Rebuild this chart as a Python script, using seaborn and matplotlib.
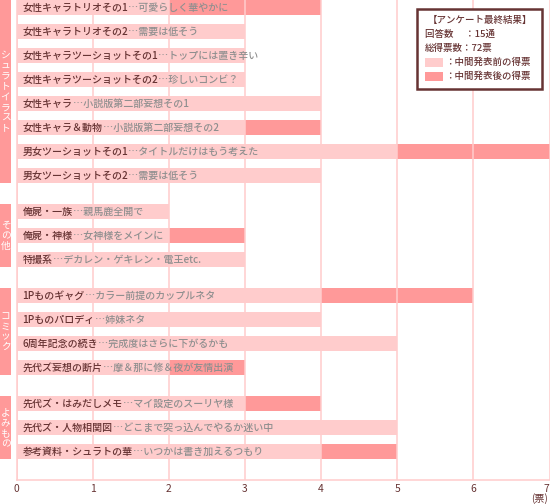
import pandas as pd
import matplotlib.pyplot as plt
import seaborn as sns
from matplotlib.patches import Rectangle
from matplotlib.transforms import blended_transform_factory

# data
groups = ['シュラトイラスト', 'その他', 'コミック', 'よみもの']
item_group = [0, 0, 0, 0, 0, 0, 0, 0, 1, 1, 1, 2, 2, 2, 2, 3, 3, 3]
titles = [
    '女性キャラトリオその1', '女性キャラトリオその2', '女性キャラツーショットその1',
    '女性キャラツーショットその2', '女性キャラ', '女性キャラ＆動物',
    '男女ツーショットその1', '男女ツーショットその2',
    '俺屍・一族', '俺屍・神様', '特撮系',
    '1Pものギャグ', '1Pものパロディ', '6周年記念の続き', '先代ズ妄想の断片',
    '先代ズ・はみだしメモ', '先代ズ・人物相関図', '参考資料・シュラトの華',
]
comments = [
    '可愛らしく華やかに', '需要は低そう', 'トップには置き辛い', '珍しいコンビ？',
    '小説版第二部妄想その1', '小説版第二部妄想その2', 'タイトルだけはもう考えた', '需要は低そう',
    '親馬鹿全開で', '女神様をメインに', 'デカレン・ゲキレン・電王etc.',
    'カラー前提のカップルネタ', '姉妹ネタ', '完成度はさらに下がるかも', '摩＆那に修＆夜が友情出演',
    'マイ設定のスーリヤ様', 'どこまで突っ込んでやるか迷い中', 'いつかは書き加えるつもり',
]
votes_before = [2, 3, 3, 3, 4, 3, 5, 4, 2, 2, 3, 4, 4, 5, 2, 3, 5, 4]
votes_after = [2, 0, 0, 0, 0, 1, 2, 0, 0, 1, 0, 2, 0, 0, 1, 1, 0, 1]
x_ticks = [0, 1, 2, 3, 4, 5, 6, 7]
legend_lines = ['【アンケート最終結果】', '回答数　 ：15通', '総得票数：72票']
legend_labels = ['：中間発表前の得票', '：中間発表後の得票']

LIGHT = '#ffcccc'
DARK = '#ff9999'
BROWN = '#663333'
GRAY = '#8f8f8f'

# row positions, half a row extra between groups
pos = []
p = 0.0
for i, g in enumerate(item_group):
    if i > 0 and g != item_group[i - 1]:
        p += 0.5
    pos.append(p)
    if i < len(item_group) - 1:
        p += 1

df = pd.DataFrame({
    'pos': pos,
    'before': votes_before,
    'total': [b + a for b, a in zip(votes_before, votes_after)],
})

sns.set_style('white')
plt.rcParams['font.family'] = ['Noto Sans CJK JP', 'DejaVu Sans']

fig = plt.figure(figsize=(5.5, 5.04), dpi=100)
W, H = 550, 504
ax = fig.add_axes([16.5 / W, 1 - 480 / H, (549.5 - 16.5) / W, 480 / H])

# dark = total, light = before drawn over it
sns.barplot(data=df, x='total', y='pos', orient='y', native_scale=True, width=0.625,
            color=DARK, saturation=1, errorbar=None, linewidth=0, ax=ax)
sns.barplot(data=df, x='before', y='pos', orient='y', native_scale=True, width=0.625,
            color=LIGHT, saturation=1, errorbar=None, linewidth=0, ax=ax)

ax.set_xlim(0, 7)
ax.set_ylim(pos[-1] + 28.5 / 24, -7.5 / 24)
ax.set_xticks(x_ticks)
ax.set_yticks([])
ax.set_xlabel('')
ax.set_ylabel('')
ax.tick_params(axis='x', length=0, pad=3, labelsize=7.4, labelcolor=BROWN)
ax.get_xticklabels()[-1].set_horizontalalignment('right')
ax.grid(axis='x', color=LIGHT, linewidth=1.1)
ax.set_axisbelow(False)
for s in ['top', 'right']:
    ax.spines[s].set_visible(False)
for s in ['left', 'bottom']:
    ax.spines[s].set_color(LIGHT)
    ax.spines[s].set_linewidth(1.1)

# bar labels: title in brown, comment in gray
for y, t, c in zip(pos, titles, comments):
    txt = ax.text(6 / 76.1, y, t, ha='left', va='center', fontsize=7.2,
                  fontweight='medium', color=BROWN, zorder=4)
    ax.annotate('…' + c, xy=(1, 0.5), xycoords=txt, ha='left', va='center',
                fontsize=7.2, fontweight='medium', color=GRAY, zorder=4)

# group boxes on the left
trans = blended_transform_factory(fig.transFigure, ax.transData)
for gi, name in enumerate(groups):
    ys = [y for y, g in zip(pos, item_group) if g == gi]
    top, bot = ys[0] - 0.3125, ys[-1] + 0.3125
    ax.add_patch(Rectangle((0, top), 11 / W, bot - top, transform=trans,
                           facecolor=DARK, edgecolor='none', clip_on=False))
    mid = (top + bot) / 2
    pitch = 10.5 / 24
    for k, ch in enumerate(name):
        yy = mid + (k - (len(name) - 1) / 2) * pitch
        ax.text(5.5 / W, yy, ch, transform=trans, ha='center', va='center',
                fontsize=7, color='white', clip_on=False)

# summary box, top right
def fx(x):
    return x / W

def fy(y):
    return 1 - y / H

fig.patches.append(Rectangle((fx(417), fy(89)), fx(542) - fx(417), fy(9) - fy(89),
                             transform=fig.transFigure, facecolor='white',
                             edgecolor=BROWN, linewidth=1.8, zorder=5))
fig.text(fx(428), fy(20), legend_lines[0], ha='left', va='center', fontsize=6.8,
         fontweight='medium', color=BROWN, zorder=6)
fig.text(fx(425), fy(34), legend_lines[1], ha='left', va='center', fontsize=6.8,
         fontweight='medium', color=BROWN, zorder=6)
fig.text(fx(425), fy(48), legend_lines[2], ha='left', va='center', fontsize=6.8,
         fontweight='medium', color=BROWN, zorder=6)
for k, (col, lab) in enumerate(zip([LIGHT, DARK], legend_labels)):
    yc = 62.5 + k * 14
    fig.patches.append(Rectangle((fx(425), fy(yc + 4.5)), fx(443) - fx(425), 9 / H,
                                 transform=fig.transFigure, facecolor=col,
                                 edgecolor='none', zorder=6))
    fig.text(fx(445), fy(yc), lab, ha='left', va='center', fontsize=6.8,
             fontweight='medium', color=BROWN, zorder=6)

fig.text(fx(548), fy(499), '(票)', ha='right', va='center', fontsize=7.2, color=BROWN)

fig.savefig('out.png', dpi=100)
